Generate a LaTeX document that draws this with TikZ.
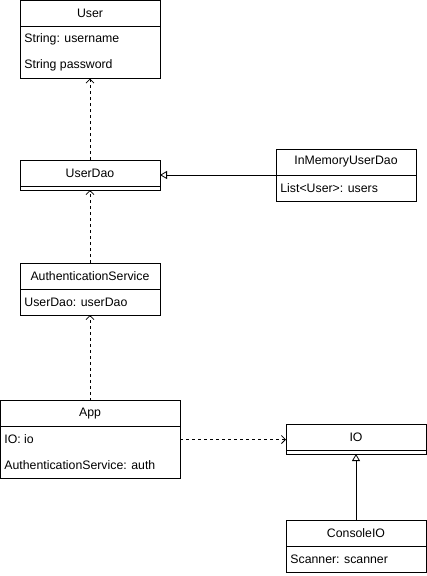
\documentclass[tikz,border=0pt]{standalone}
\usepackage{fontspec}
\setmainfont{Liberation Sans}
\usetikzlibrary{arrows.meta,positioning}
\tikzset{
classhead/.style={draw,minimum width=#1,minimum height=26pt,inner sep=0pt,outer sep=0pt},
classhead/.default=140pt,
classbody/.style={draw,minimum width=140pt,minimum height=#1,inner sep=0pt,outer sep=0pt},
attr/.style={anchor=west,inner sep=0pt},
dep/.style={dashed,-{Straight Barb[length=4pt,width=8pt]}},
inherit/.style={-{Triangle[open,length=7pt,width=8pt]}}
}

\begin{document}
\begin{tikzpicture}[x=1pt,y=-1pt,line width=0.8pt,font=\fontsize{12.3}{14}\selectfont]
\useasboundingbox (0,0) rectangle (427,576);
% classes
\node[classhead](user) at (90,13.5){User};
\node[classbody=52pt,below=0pt of user](userbody){};
\node[attr](username) at (24,39.5){String: username};
\node[attr](userpass) at (24,65.5){String password};

\node[classhead](userdao) at (90,173){UserDao};
\node[classbody=4pt,below=0pt of userdao](userdaobody){};

\node[classhead](inmem) at (346,162){InMemoryUserDao};
\node[classbody=26pt,below=0pt of inmem](inmembody){};
\node[attr](inmemusers) at (280,188){List<User>: users};

\node[classhead](auth) at (90,276){AuthenticationService};
\node[classbody=26pt,below=0pt of auth](authbody){};
\node[attr](authdao) at (24,302){UserDao: userDao};

\node[classhead=180pt](app) at (90,413.5){App};
\node[classbody=52pt,minimum width=180pt,below=0pt of app](appbody){};
\node[attr](appio) at (4,439.5){IO: io};
\node[attr](appauth) at (4,465.5){AuthenticationService: auth};

\node[classhead](io) at (356,437){IO};
\node[classbody=4pt,below=0pt of io](iobody){};

\node[classhead](console) at (356,533){ConsoleIO};
\node[classbody=26pt,below=0pt of console](consolebody){};
\node[attr](consolescan) at (290,559){Scanner: scanner};

% relations
\draw[dep](userdao.north)--(userbody.south);
\draw[dep](auth.north)--(userdaobody.south);
\draw[dep](app.north)--(authbody.south);
\draw[inherit](inmembody.north west)--(inmembody.north west -| userdao.east);
\draw[dep](appio -| appbody.east)--(appio -| io.west);
\draw[inherit](console.north)--(iobody.south);
\end{tikzpicture}
\end{document}
